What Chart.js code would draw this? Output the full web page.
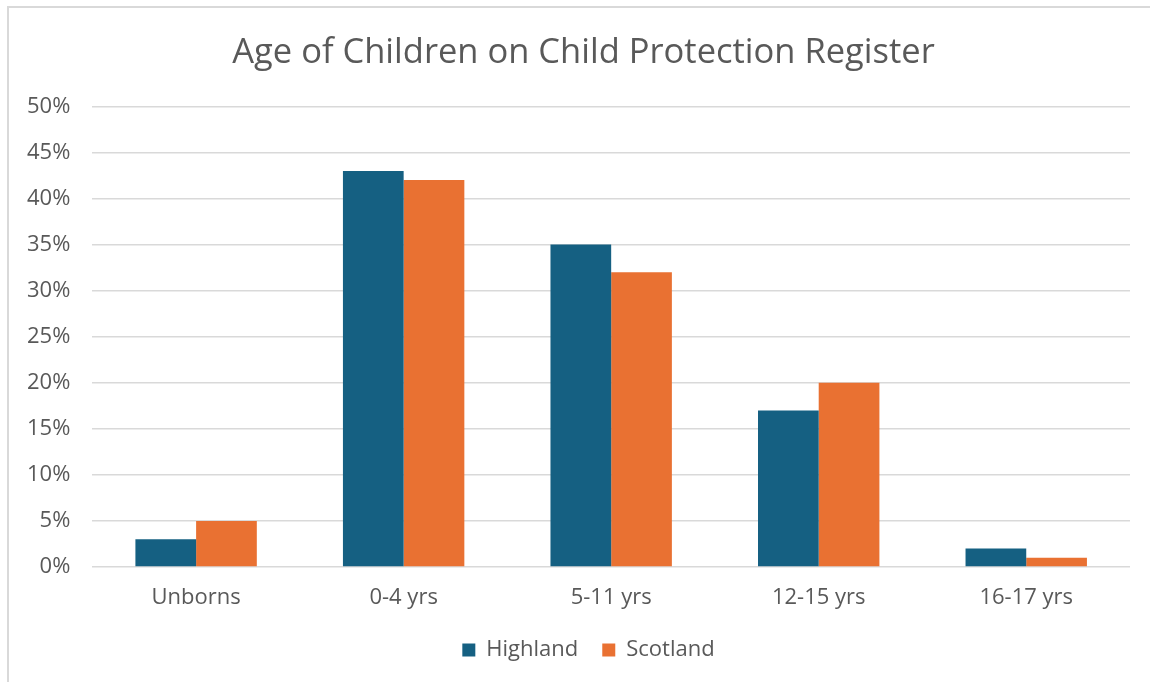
<!DOCTYPE html>
<html>
<head>
<meta charset="utf-8">
<script src="https://cdn.jsdelivr.net/npm/chart.js@4"></script>
<style>
    html, body { margin: 0; padding: 0; background: #fff; overflow: hidden; }
    #frame {
        position: absolute; left: 7px; top: 6px; width: 1200px; height: 720px;
        border: 2px solid #d9d9d9; box-sizing: border-box;
    }
    #wrap { position: absolute; left: 0; top: 0; width: 1150px; height: 682px; }
</style>
</head>
<body>
<div id="frame"></div>
<div id="wrap"><canvas id="ageChart"></canvas></div>
<script>
// Age breakdown of children on the register
const categories = ['Unborns', '0-4 yrs', '5-11 yrs', '12-15 yrs', '16-17 yrs'];
const highland = [3, 43, 35, 17, 2];
const scotland = [5, 42, 32, 20, 1];
const yTicks = [0, 5, 10, 15, 20, 25, 30, 35, 40, 45, 50];

const FONT = '"Open Sans", sans-serif';
const TEXT = '#595959';

// nudge title and legend so they sit closer to the middle of the plot area
const boxShift = {
    id: 'boxShift',
    afterLayout(chart) {
        const shift = (box, dx) => {
            if (!box) return;
            box.left += dx;
            box.right += dx;
        };
        shift(chart.legend, 21);
        shift(chart.titleBlock, 16);
    }
};

new Chart(document.getElementById('ageChart'), {
    type: 'bar',
    data: {
        labels: categories,
        datasets: [
            {
                label: 'Highland',
                data: highland,
                backgroundColor: '#156082',
                barPercentage: 1,
                categoryPercentage: 0.585
            },
            {
                label: 'Scotland',
                data: scotland,
                backgroundColor: '#E97132',
                barPercentage: 1,
                categoryPercentage: 0.585
            }
        ]
    },
    options: {
        responsive: true,
        maintainAspectRatio: false,
        animation: false,
        layout: {
            padding: { left: 5, right: 20, top: 28, bottom: 11 }
        },
        plugins: {
            title: {
                display: true,
                text: 'Age of Children on Child Protection Register',
                color: TEXT,
                font: { family: FONT, size: 34.5, weight: 'normal' },
                padding: { top: 4, bottom: 33 }
            },
            legend: {
                display: true,
                position: 'bottom',
                labels: {
                    color: TEXT,
                    font: { family: FONT, size: 22 },
                    boxWidth: 13,
                    boxHeight: 13,
                    padding: 24
                }
            },
            tooltip: { enabled: false }
        },
        scales: {
            x: {
                grid: { display: false },
                border: { display: false },
                ticks: {
                    color: TEXT,
                    font: { family: FONT, size: 22 },
                    padding: 10
                },
                afterFit: axis => {
                    axis.height = 48;
                }
            },
            y: {
                min: 0,
                max: 50,
                afterBuildTicks: axis => {
                    axis.ticks = yTicks.map(v => ({ value: v }));
                },
                grid: { color: '#d9d9d9', lineWidth: 1.5, drawTicks: false },
                border: { display: false },
                ticks: {
                    color: TEXT,
                    font: { family: FONT, size: 22 },
                    padding: 22,
                    callback: v => v + '%'
                }
            }
        }
    },
    plugins: [boxShift]
});
</script>
</body>
</html>
